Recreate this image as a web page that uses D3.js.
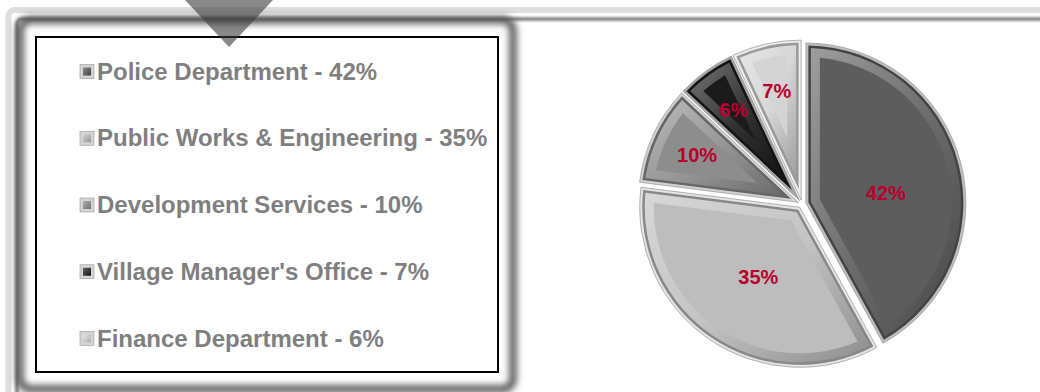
<!DOCTYPE html>
<html>
<head>
<meta charset="utf-8">
<script src="https://cdn.jsdelivr.net/npm/d3@7"></script>
<style>
  body { margin: 0; background: #fff; }
  svg { display: block; font-family: "Liberation Sans", Arial, sans-serif; }
</style>
</head>
<body>
<svg id="chart" width="1040" height="392"></svg>
<script>
// Legend entries (as listed in the key)
const departments = ["Police Department", "Public Works & Engineering", "Development Services",
                     "Village Manager's Office", "Finance Department"];
const legendShares = [42, 35, 10, 7, 6];
const legendShades = ["#4e4e4e", "#bcbcbc", "#8a8a8a", "#141414", "#d8d8d8"];

// Pie slices, clockwise from 12 o'clock
const sliceValues = [42, 35, 10, 6, 7];
const sliceShades = ["#5d5d5d", "#bdbdbd", "#8d8d8d", "#1b1b1b", "#d4d4d4"];

const W = 1040, H = 392;
const svg = d3.select("#chart");
const defs = svg.append("defs");

const blur = (id, sd) => defs.append("filter").attr("id", id)
  .attr("x", "-20%").attr("y", "-20%").attr("width", "140%").attr("height", "140%")
  .append("feGaussianBlur").attr("stdDeviation", sd);
blur("blurSmall", 1);
blur("blurWide", 3.5);

// ---- page frame ----
svg.append("rect").attr("x", 8.5).attr("y", 10).attr("width", W + 40).attr("height", H + 60)
  .attr("rx", 6).attr("fill", "none").attr("stroke", "#dedede").attr("stroke-width", 6);
svg.append("rect").attr("x", 17).attr("y", 19).attr("width", W + 40).attr("height", H + 60)
  .attr("rx", 5).attr("fill", "none").attr("stroke", "#8c8c8c").attr("stroke-width", 4)
  .attr("filter", "url(#blurSmall)");

// ---- legend panel ----
const box = { x: 36, y: 37, w: 462, h: 335 };
svg.append("rect").attr("x", 20).attr("y", 20)
  .attr("width", 493).attr("height", 369).attr("rx", 10)
  .attr("fill", "none").attr("stroke", "#484848").attr("stroke-width", 7)
  .attr("filter", "url(#blurWide)");
svg.append("rect").attr("x", box.x).attr("y", box.y).attr("width", box.w).attr("height", box.h)
  .attr("fill", "#fff").attr("stroke", "#000").attr("stroke-width", 2);

const rowY = d3.scalePoint().domain(departments).range([79.5, 346.5]);
const legend = svg.append("g");
departments.forEach((name, i) => {
  const g = legend.append("g").attr("transform", `translate(80,${rowY(name)})`);
  const gid = "sw" + i;
  const lg = defs.append("linearGradient").attr("id", gid)
    .attr("x1", 0).attr("y1", 0).attr("x2", 1).attr("y2", 1);
  lg.append("stop").attr("offset", 0).attr("stop-color", d3.interpolate(legendShades[i], "#fff")(0.35));
  lg.append("stop").attr("offset", 1).attr("stop-color", d3.interpolate(legendShades[i], "#000")(0.2));
  g.append("rect").attr("x", 0).attr("y", -15).attr("width", 14).attr("height", 14)
    .attr("fill", "#d4d4d4").attr("stroke", "#9a9a9a").attr("stroke-width", 0.6);
  g.append("rect").attr("x", 3).attr("y", -12).attr("width", 8).attr("height", 8)
    .attr("fill", `url(#${gid})`);
  g.append("text").attr("x", 17).attr("y", 0)
    .attr("font-size", 24).attr("font-weight", "bold").attr("fill", "#7f7f7f")
    .text(`${name} - ${legendShares[i]}%`);
});

// ---- pie ----
const cx = 802, cy = 204, R = 160, explode = 4;
const pie = d3.pie().sort(null).value(d => d)(sliceValues);
const arcFull = d3.arc().innerRadius(0).outerRadius(R);

// wedge shrunk inward by d pixels on every side
function insetWedge(a0, a1, r, d) {
  const h = (a1 - a0) / 2, m = (a0 + a1) / 2;
  const apex = d / Math.sin(h);
  const rr = r - d;
  const del = Math.asin(d / rr);
  const p = d3.path();
  p.moveTo(apex * Math.sin(m), -apex * Math.cos(m));
  p.lineTo(rr * Math.sin(a0 + del), -rr * Math.cos(a0 + del));
  p.arc(0, 0, rr, a0 + del - Math.PI / 2, a1 - del - Math.PI / 2);
  p.closePath();
  return p.toString();
}

const pieG = svg.append("g").attr("transform", `translate(${cx},${cy})`);
pie.forEach((s, i) => {
  const m = (s.startAngle + s.endAngle) / 2;
  const face = sliceShades[i];
  const g = pieG.append("g")
    .attr("transform", `translate(${explode * Math.sin(m)},${-explode * Math.cos(m)})`);
  const gid = "bev" + i;
  const lg = defs.append("linearGradient").attr("id", gid)
    .attr("x1", 0).attr("y1", 0).attr("x2", 1).attr("y2", 1);
  lg.append("stop").attr("offset", 0).attr("stop-color", d3.interpolate(face, "#fff")(0.4));
  lg.append("stop").attr("offset", 0.5).attr("stop-color", d3.interpolate(face, "#fff")(0.1));
  lg.append("stop").attr("offset", 1).attr("stop-color", d3.interpolate(face, "#000")(0.25));

  const outer = g.append("path").attr("d", arcFull(s))
    .attr("fill", d3.interpolate(face, "#fff")(0.6)).attr("stroke", "#a0a0a0").attr("stroke-width", 0.8);
  g.append("path").attr("d", insetWedge(s.startAngle, s.endAngle, R, 2.5))
    .attr("fill", d3.interpolate(face, "#000")(0.28));
  g.append("path").attr("d", insetWedge(s.startAngle, s.endAngle, R, 5))
    .attr("fill", `url(#${gid})`);
  g.append("path").attr("d", insetWedge(s.startAngle, s.endAngle, R, 14))
    .attr("fill", face);

  // big slices: label at the middle of the slice's extent; small ones near the rim
  let lx, ly;
  if (s.value >= 20) {
    const bb = outer.node().getBBox();
    lx = bb.x + bb.width / 2;
    ly = bb.y + bb.height / 2;
  } else {
    const lr = R * 0.7;
    lx = lr * Math.sin(m);
    ly = -lr * Math.cos(m);
  }
  g.append("text")
    .attr("x", lx).attr("y", ly).attr("dy", "0.35em")
    .attr("text-anchor", "middle").attr("font-size", 20).attr("font-weight", "bold")
    .attr("fill", "#bb0030").text(s.value + "%");
});

// ---- pointer tab at the top edge ----
svg.append("path").attr("d", "M185,0 L273,0 L229,47 Z")
  .attr("fill", "#3a3a3a").attr("fill-opacity", 0.6);
</script>
</body>
</html>
